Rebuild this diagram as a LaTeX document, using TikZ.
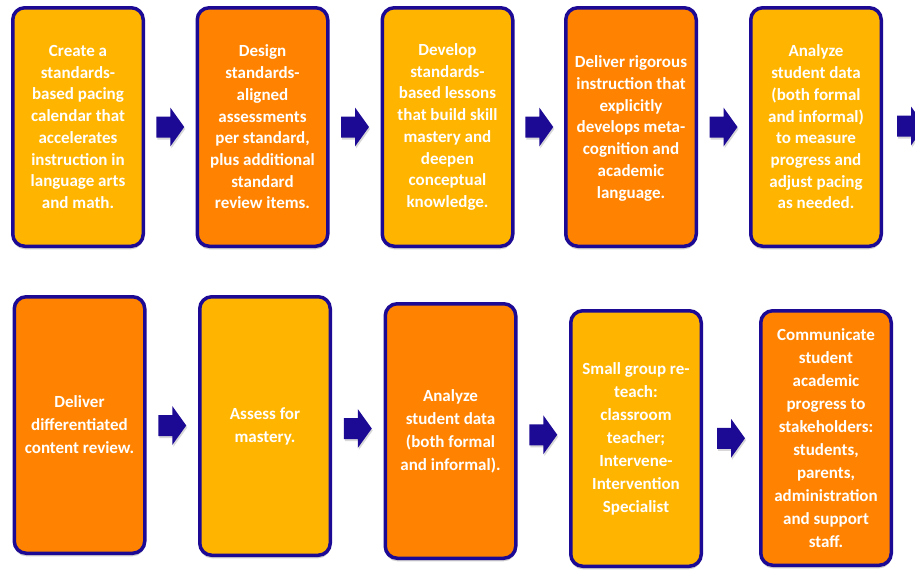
\documentclass[tikz,border=0pt]{standalone}
\usepackage{fontspec}
\setmainfont{Carlito}
\usetikzlibrary{calc,shadows}
\definecolor{lightor}{RGB}{255,180,0}
\definecolor{darkor}{RGB}{255,131,0}
\definecolor{navy}{RGB}{28,10,148}
\tikzset{
  stepbox/.style={draw=navy, line width=3.5pt, rounded corners=12pt,
    minimum width=130.5pt, inner sep=0pt, align=center, text=white,
    font=\fontsize{17}{21.7}\selectfont\bfseries,
    drop shadow={shadow xshift=0pt, shadow yshift=-3pt, opacity=0.3, fill=black!60}},
  lowrow/.style={font=\fontsize{17}{23}\selectfont\bfseries},
  lightbox/.style={stepbox, fill=lightor},
  darkbox/.style={stepbox, fill=darkor},
  blockarrow/.style={fill=navy, drop shadow={shadow xshift=1pt, shadow yshift=-2pt, opacity=0.25, fill=black!60}}
}
\newcommand{\blockarr}[1]{%
  \fill[blockarrow] ([shift={(-14,-10.5)}]#1) -- ([shift={(0,-10.5)}]#1) -- ([shift={(0,-19.5)}]#1)
    -- ([shift={(14,0)}]#1) -- ([shift={(0,19.5)}]#1) -- ([shift={(0,10.5)}]#1)
    -- ([shift={(-14,10.5)}]#1) -- cycle;}
\begin{document}
\begin{tikzpicture}[x=1pt,y=-1pt]
\clip (0,0) rectangle (915,571);
\fill[white] (0,0) rectangle (915,571);
% top row
\node[lightbox, minimum height=238.5pt] (b1) at (78,127) {Create a\\standards-\\based pacing\\calendar that\\accelerates\\instruction in\\language arts\\and math.};
\node[darkbox, minimum height=238.5pt] (b2) at (262.5,127) {Design\\standards-\\aligned\\assessments\\per standard,\\plus additional\\standard\\review items.};
\node[lightbox, minimum height=238.5pt] (b3) at (447.5,127) {Develop\\standards-\\based lessons\\that build skill\\mastery and\\deepen\\conceptual\\knowledge.};
\node[darkbox, minimum height=238.5pt, text depth=-3pt] (b4) at (631,127) {Deliver rigorous\\instruction that\\explicitly\\develops meta-\\cognition and\\academic\\language.};
\node[lightbox, minimum height=238.5pt] (b5) at (816,127) {Analyze\\student data\\(both formal\\and informal)\\to measure\\progress and\\adjust pacing\\as needed.};
\coordinate (next) at (939,125);
% bottom row
\node[darkbox, lowrow, minimum height=256.5pt] (b6) at (79.5,425) {Deliver\\differentiated\\content review.};
\node[lightbox, lowrow, minimum height=258.5pt] (b7) at (265,426) {Assess for\\mastery.};
\node[darkbox, lowrow, minimum height=254.5pt] (b8) at (450.5,431) {Analyze\\student data\\(both formal\\and informal).};
\node[lightbox, lowrow, minimum height=255.5pt] (b9) at (636,438.5) {Small group re-\\teach:\\classroom\\teacher;\\Intervene-\\Intervention\\Specialist};
\node[darkbox, lowrow, minimum height=254.5pt] (b10) at (826,438) {Communicate\\student\\academic\\progress to\\stakeholders:\\students,\\parents,\\administration\\and support\\staff.};
% arrows
\coordinate (a1) at ($(b1.east)!0.5!(b2.west)$);
\coordinate (a2) at ($(b2.east)!0.5!(b3.west)$);
\coordinate (a3) at ($(b3.east)!0.5!(b4.west)$);
\coordinate (a4) at ($(b4.east)!0.5!(b5.west)$);
\coordinate (a5) at ($(b5.east)!0.5!(next)$);
\coordinate (a6) at ($(b6.east)!0.5!(b7.west)$);
\coordinate (a7) at ($(b7.east)!0.5!(b8.west)$);
\coordinate (a8) at ($(b8.east)!0.5!(b9.west)$);
\coordinate (a9) at ($(b9.east)!0.5!(b10.west)$);
\foreach \a in {a1,a2,a3,a4,a5,a6,a7,a8,a9} {\blockarr{\a}}
\end{tikzpicture}
\end{document}
